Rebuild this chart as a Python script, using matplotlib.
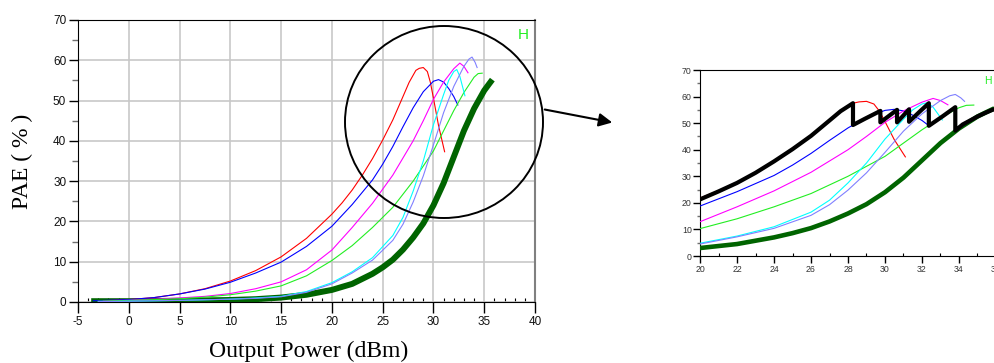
import matplotlib
matplotlib.use("Agg")
import matplotlib.pyplot as plt
from matplotlib.patches import Ellipse, FancyArrowPatch
from matplotlib.ticker import MultipleLocator

plt.rcParams['axes.unicode_minus'] = False

# PAE (%) vs output power (dBm)
red_x = [-2.5, 0, 2.5, 5, 7.5, 10, 12.5, 15, 17.5, 20, 21, 22, 23, 24, 25, 26, 27, 27.6, 28.27, 28.6, 29, 29.4, 29.7, 30, 30.5, 31.1]
red_y = [0.3, 0.6, 1.1, 2.0, 3.3, 5.2, 7.8, 11.2, 15.8, 21.8, 24.6, 27.8, 31.5, 35.6, 40.2, 45.2, 51.0, 54.5, 57.5, 58.0, 58.2, 57.2, 54.5, 50.6, 43.8, 37.3]

blue_x = [-3.5, 0, 2.5, 5, 7.5, 10, 12.5, 15, 17.5, 20, 22, 24, 25, 26, 27, 28, 29, 30, 30.5, 31, 31.5, 32, 32.4]
blue_y = [0.3, 0.6, 1.1, 2.0, 3.2, 4.9, 7.2, 9.9, 13.8, 18.8, 24.2, 30.3, 34.2, 38.6, 43.5, 48.2, 52.2, 54.8, 55.2, 54.6, 53.0, 51.0, 48.9]

magenta_x = [-2.5, 0, 5, 7.5, 10, 12.5, 15, 17.5, 20, 22, 24, 26, 28, 29, 30, 31, 32, 32.6, 33, 33.4]
magenta_y = [0.2, 0.4, 1.0, 1.4, 2.1, 3.3, 5.0, 8.0, 12.9, 18.5, 24.5, 31.5, 40.0, 45.0, 50.3, 54.6, 57.9, 59.3, 58.5, 56.9]

green_x = [-3, 0, 5, 7.5, 10, 12.5, 15, 17.5, 20, 22, 24, 26, 28, 30, 32, 33, 34, 34.4, 34.8]
green_y = [0.2, 0.4, 0.8, 1.2, 1.8, 2.7, 4.0, 6.5, 10.3, 14.0, 18.5, 23.5, 30.0, 37.5, 47.5, 52.0, 55.8, 56.7, 56.8]

cyan_x = [-3, 0, 5, 10, 12.5, 15, 17.5, 20, 22, 24, 26, 27, 28, 29, 30, 31, 31.5, 32, 32.3, 32.6, 33.1]
cyan_y = [0.1, 0.2, 0.4, 0.7, 1.0, 1.4, 2.6, 4.8, 7.5, 11.0, 16.5, 21.0, 27.5, 35.0, 44.0, 51.5, 55.0, 57.2, 57.7, 56.0, 51.2]

purple_x = [-3, 0, 5, 10, 12.5, 15, 17.5, 20, 22, 24, 26, 27, 28, 29, 30, 31, 32, 33, 33.5, 33.8, 34.1, 34.3]
purple_y = [0.1, 0.2, 0.4, 0.7, 0.9, 1.3, 2.4, 4.5, 7.2, 10.4, 15.3, 19.3, 24.8, 31.3, 39.0, 47.0, 53.5, 58.5, 60.3, 60.8, 59.5, 58.2]

dkgreen_x = [-3.7, 0, 5, 10, 12.5, 15, 17.5, 20, 22, 24, 25, 26, 27, 28, 29, 30, 31, 32, 33, 34, 35, 35.5, 35.8]
dkgreen_y = [0.2, 0.2, 0.3, 0.5, 0.7, 1.1, 1.8, 3.0, 4.5, 7.0, 8.6, 10.5, 13.0, 16.0, 19.5, 24.0, 29.5, 36.0, 42.5, 48.0, 52.5, 54.2, 55.2]

# envelope shown only in the zoomed view
black_x = [20, 21, 22, 23, 24, 25, 26, 27, 27.6, 28.27, 28.27, 28.9, 29.75, 29.75, 30.65, 30.65, 31.3, 31.3, 31.9, 32.37, 32.37, 33.1, 33.8, 33.8, 34.2, 34.6, 35.0, 35.4, 35.8, 36.2]
black_y = [21.3, 24.3, 27.5, 31.3, 35.6, 40.2, 45.2, 51.0, 54.5, 57.5, 49.3, 51.6, 54.6, 50.3, 55.0, 50.3, 55.2, 50.5, 54.5, 57.5, 49.0, 52.5, 56.0, 47.2, 49.5, 51.0, 52.5, 53.8, 55.0, 55.8]

thin = [(red_x, red_y, '#ff0000'), (blue_x, blue_y, '#0000ff'),
        (magenta_x, magenta_y, '#ff00ff'), (green_x, green_y, '#22ee22'),
        (cyan_x, cyan_y, '#00ffff'), (purple_x, purple_y, '#8080ff')]

W, H = 994, 363
fig = plt.figure(figsize=(W / 100, H / 100), dpi=100)

def px(x0, y0, x1, y1):
    # pixel box -> figure fraction [left, bottom, width, height]
    return [x0 / W, 1 - y1 / H, (x1 - x0) / W, (y1 - y0) / H]

def style_axes(ax, fs, labcol):
    ax.tick_params(axis='both', which='major', direction='out', color='black',
                   labelsize=fs, labelcolor=labcol, width=1)
    ax.tick_params(axis='x', which='minor', direction='in', length=3, width=0.8)
    ax.tick_params(axis='y', which='minor', direction='out', length=4, width=1, color='#707070')
    for lab in ax.get_xticklabels() + ax.get_yticklabels():
        lab.set_fontfamily('Liberation Sans')

# main chart
ax = fig.add_axes(px(78, 20, 535, 302))
ax.plot(dkgreen_x, dkgreen_y, color='#006400', lw=4.3, solid_capstyle='butt', zorder=3)
for xs, ys, c in thin:
    ax.plot(xs, ys, color=c, lw=0.8, zorder=4)
ax.set_xlim(-5, 40)
ax.set_ylim(0, 70)
ax.xaxis.set_major_locator(MultipleLocator(5))
ax.xaxis.set_minor_locator(MultipleLocator(1))
ax.yaxis.set_major_locator(MultipleLocator(10))
ax.yaxis.set_minor_locator(MultipleLocator(5))
ax.grid(True, which='major', color='#c8c8c8', lw=1.2, zorder=0)
ax.set_axisbelow(True)
ax.spines['right'].set_color('#808080')
ax.spines['right'].set_linewidth(1.5)
ax.tick_params(axis='x', which='major', length=8, pad=2)
ax.tick_params(axis='y', which='major', length=6.5, pad=2)
style_axes(ax, 8.5, '#111111')
ax.text(38.8, 66.2, 'H', color='#22ee22', fontsize=11, fontfamily='Liberation Sans',
        ha='center', va='center')

fig.text(22 / W, 1 - 161 / H, 'PAE ( % )', rotation=90, fontsize=17,
         fontfamily='Liberation Serif', ha='center', va='center')
fig.text(309 / W, 1 - 351 / H, 'Output Power (dBm)', fontsize=17,
         fontfamily='Liberation Serif', ha='center', va='center')

# zoom circle and arrow
fig.patches.append(Ellipse((444 / W, 1 - 122 / H), 198 / W, 192 / H, transform=fig.transFigure,
                           fill=False, ec='black', lw=1.4))
fig.patches.append(FancyArrowPatch((542 / W, 1 - 109 / H), (615 / W, 1 - 123 / H),
                                   transform=fig.transFigure, arrowstyle='-|>',
                                   mutation_scale=20, color='black', lw=1.5))

# zoomed view
ax2 = fig.add_axes(px(700, 70, 996, 256))
ax2.plot(dkgreen_x, dkgreen_y, color='#006400', lw=3.3, zorder=3)
for xs, ys, c in thin:
    ax2.plot(xs, ys, color=c, lw=0.8, zorder=4)
ax2.plot(black_x, black_y, color='black', lw=3.0, zorder=5)
ax2.set_xlim(20, 36)
ax2.set_ylim(0, 70)
ax2.xaxis.set_major_locator(MultipleLocator(2))
ax2.xaxis.set_minor_locator(MultipleLocator(1))
ax2.yaxis.set_major_locator(MultipleLocator(10))
ax2.yaxis.set_minor_locator(MultipleLocator(5))
ax2.tick_params(axis='x', which='major', length=5, pad=1.5)
ax2.tick_params(axis='y', which='major', length=5, pad=1)
style_axes(ax2, 6.3, '#333333')
ax2.tick_params(axis='both', which='minor', length=2.5)
ax2.text(35.55, 66.0, 'H', color='#22ee22', fontsize=7.5, fontfamily='Liberation Sans',
         ha='center', va='center')

fig.savefig('out.png', dpi=100)
